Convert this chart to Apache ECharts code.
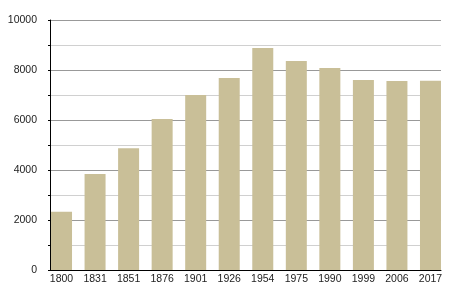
<!DOCTYPE html>
<html><head><meta charset="utf-8">
<script src="https://cdn.jsdelivr.net/npm/echarts@6/dist/echarts.min.js"></script>
<style>html,body{margin:0;padding:0;background:#fff}#c{width:450px;height:300px}</style>
</head><body><div id="c"></div>
<script>
var years = ['1800','1831','1851','1876','1901','1926','1954','1975','1990','1999','2006','2017'];
var population = [2330, 3840, 4870, 6040, 7000, 7680, 8880, 8360, 8080, 7600, 7560, 7570];
var yMin = 0, yMax = 10000, yStep = 2000;
var font = 'Liberation Sans';
var chart = echarts.init(document.getElementById('c'));
chart.setOption({
  animation: false,
  grid: [
    {left: 50, right: 9, top: 20, bottom: 30},
    {left: 44.75, right: 2.75, top: 20, bottom: 30}
  ],
  xAxis: [
    {
      type: 'category', gridIndex: 0, data: years,
      axisLine: {lineStyle: {color: '#000', width: 1}},
      axisTick: {show: false},
      axisLabel: {show: false}
    },
    {
      type: 'category', gridIndex: 1, data: years,
      axisLine: {show: false},
      axisTick: {show: false},
      axisLabel: {color: '#222', fontSize: 10.5, fontFamily: font, margin: 4}
    }
  ],
  yAxis: [
    {
      type: 'value', gridIndex: 0, min: yMin, max: yMax, interval: yStep,
      axisLine: {show: true, lineStyle: {color: '#000', width: 1}},
      axisTick: {show: true, length: 2, lineStyle: {color: '#000'}},
      minorTick: {show: true, splitNumber: 2, length: 2, lineStyle: {color: '#000'}},
      splitLine: {lineStyle: {color: '#999', width: 1}},
      minorSplitLine: {show: true, lineStyle: {color: '#d0d0d0', width: 1}},
      axisLabel: {color: '#222', fontSize: 10.5, fontFamily: font, margin: 13, formatter: function (v) { return String(v); }}
    },
    {
      type: 'value', gridIndex: 1, min: yMin, max: yMax, interval: yStep, show: false,
      splitLine: {show: false}
    }
  ],
  series: [{
    type: 'bar', xAxisIndex: 1, yAxisIndex: 1, data: population, barWidth: 21,
    itemStyle: {color: '#c9bf98'}
  }]
});
</script></body></html>
